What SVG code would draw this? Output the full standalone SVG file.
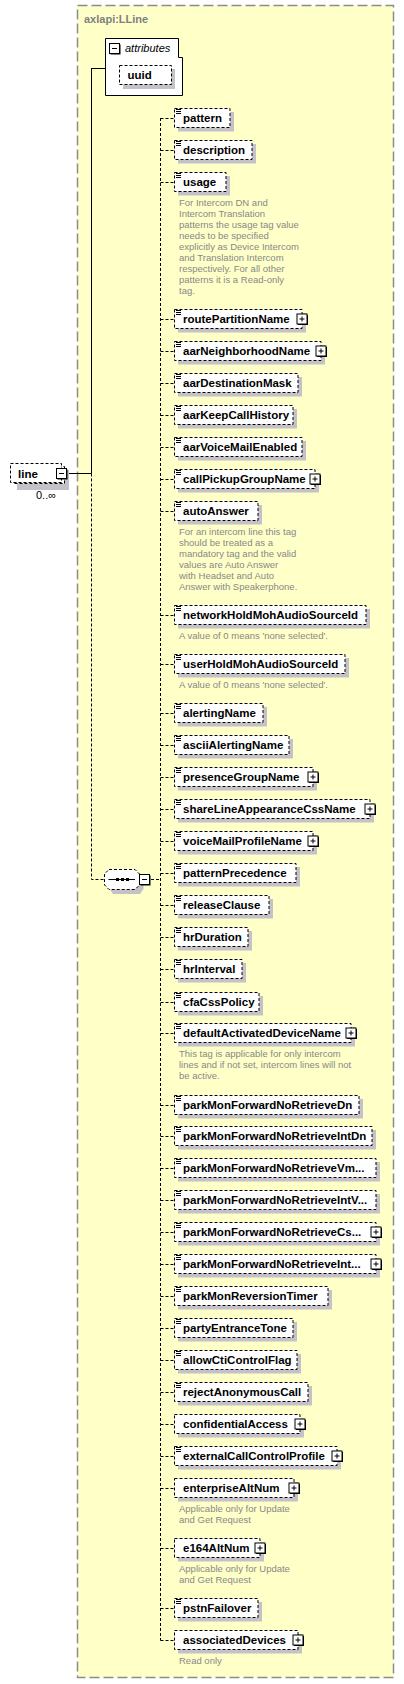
<svg xmlns="http://www.w3.org/2000/svg" width="404" height="1684" viewBox="0 0 404 1684">
<style>
.frame{fill:#FFFFC8;stroke:#8C8C8C;stroke-width:1.5;stroke-dasharray:10 4}
.title{font-family:"Liberation Sans",Arial,sans-serif;font-weight:bold;font-size:11px;fill:#808080}
.box{fill:#fff;stroke:#000;stroke-width:1;stroke-dasharray:3 2}
.sh{fill:#C4C2C8}
.lbl{font-family:"Liberation Sans",Arial,sans-serif;font-weight:bold;font-size:11.5px;fill:#000}
.ann{font-family:"Liberation Sans",Arial,sans-serif;font-size:9.5px;fill:#888888}
.solid{fill:none;stroke:#000;stroke-width:1}
.dash{fill:none;stroke:#000;stroke-width:1;stroke-dasharray:3 2}
.ital{font-family:"Liberation Sans",Arial,sans-serif;font-style:italic;font-size:11px;fill:#000}
.occ{font-family:"Liberation Sans",Arial,sans-serif;font-size:11px;fill:#000}
</style>
<defs>
<g id="plus"><rect x="1.5" y="1.5" width="10" height="10" fill="#000"/><rect x="0.5" y="0.5" width="10" height="10" fill="#fff" stroke="#000"/><path d="M3 5.5h5M5.5 3v5" stroke="#000" fill="none"/></g>
<g id="minus"><rect x="1.5" y="1.5" width="10" height="10" fill="#000"/><rect x="0.5" y="0.5" width="10" height="10" fill="#fff" stroke="#000"/><path d="M3 5.5h5" stroke="#000" fill="none"/></g>
<path id="ic" d="M176 1h5M176 3h5M176 5h5" stroke="#000" fill="none"/>
</defs>

<rect class="frame" x="77.5" y="5.5" width="316" height="1672"/>
<text class="title" x="84" y="23">axlapi:LLine</text>

<g id="connectors">
<path class="solid" d="M91.5 68.5H105M91.5 68V473.5M68 473.5H91.5"/>
<path class="dash" d="M91.5 473.5V879.5H105M151 879.5H160.5M160.5 118V1640.5"/>
<path class="dash" d="M160.5 118.5H174M160.5 150.5H174M160.5 182.5H174M160.5 319.5H174M160.5 351.5H174M160.5 383.5H174M160.5 415.5H174M160.5 447.5H174M160.5 479.5H174M160.5 511.5H174M160.5 615.5H174M160.5 664.5H174M160.5 713.5H174M160.5 745.5H174M160.5 777.5H174M160.5 809.5H174M160.5 841.5H174M160.5 873.5H174M160.5 905.5H174M160.5 937.5H174M160.5 969.5H174M160.5 1002.5H174M160.5 1033.5H174M160.5 1105.5H174M160.5 1136.5H174M160.5 1168.5H174M160.5 1200.5H174M160.5 1232.5H174M160.5 1264.5H174M160.5 1296.5H174M160.5 1328.5H174M160.5 1360.5H174M160.5 1392.5H174M160.5 1424.5H174M160.5 1456.5H174M160.5 1488.5H174M160.5 1548.5H174M160.5 1608.5H174M160.5 1640.5H174"/>
</g>

<g id="attributes">
<path d="M105.5 38.5H178.5V57.5H182.5V95.5H105.5Z" fill="#fff" stroke="#000"/>
<use href="#minus" x="109" y="43"/>
<text class="ital" x="125" y="51.5">attributes</text>
<rect class="sh" x="123" y="69" width="52" height="20"/>
<rect class="box" x="119.5" y="65.5" width="52" height="19"/>
<text class="lbl" x="127.5" y="78.5">uuid</text>
</g>

<g id="line">
<rect class="sh" x="17" y="470" width="52" height="20"/>
<rect class="box" x="13.5" y="466.5" width="51" height="17"/>
<rect class="box" x="10.5" y="463.5" width="51" height="19"/>
<use href="#minus" x="56" y="468"/>
<text class="lbl" x="18" y="477.5">line</text>
<text class="occ" x="36" y="499">0..∞</text>
</g>

<g id="sequence">
<path class="sh" d="M113 873H140L143.5 877.5V889L140 894H113L109.5 889V877.5Z"/>
<path class="box" d="M109 869.5H135L139.5 874V885L135 889.5H109L104.5 885V874Z"/>
<path d="M108.5 879.5H135" stroke="#000"/>
<rect x="116" y="878" width="3" height="3" fill="#000"/>
<rect x="121" y="878" width="3" height="3" fill="#000"/>
<rect x="126" y="878" width="3" height="3" fill="#000"/>
<use href="#minus" x="139" y="874"/>
</g>

<g id="n-pattern"><rect class="sh" x="178" y="112" width="56" height="19.5"/><rect class="box" x="174.5" y="108.5" width="55.5" height="19"/><use href="#ic" y="108.5"/><text class="lbl" x="183" y="122">pattern</text></g>
<g id="n-description"><rect class="sh" x="178" y="144" width="78" height="19.5"/><rect class="box" x="174.5" y="140.5" width="77.5" height="19"/><use href="#ic" y="140.5"/><text class="lbl" x="183" y="154">description</text></g>
<g id="n-usage"><rect class="sh" x="178" y="176" width="52" height="19.5"/><rect class="box" x="174.5" y="172.5" width="51.5" height="19"/><use href="#ic" y="172.5"/><text class="lbl" x="183" y="186">usage</text>
<text class="ann" x="179"><tspan x="179" y="206">For Intercom DN and</tspan><tspan x="179" y="217">Intercom Translation</tspan><tspan x="179" y="228">patterns the usage tag value</tspan><tspan x="179" y="239">needs to be specified</tspan><tspan x="179" y="250">explicitly as Device Intercom</tspan><tspan x="179" y="261">and Translation Intercom</tspan><tspan x="179" y="272">respectively. For all other</tspan><tspan x="179" y="283">patterns it is a Read-only</tspan><tspan x="179" y="294">tag.</tspan></text></g>
<g id="n-routePartitionName"><rect class="sh" x="178" y="313" width="128" height="19.5"/><rect class="box" x="174.5" y="309.5" width="127.5" height="19"/><use href="#ic" y="309.5"/><text class="lbl" x="183" y="323">routePartitionName</text><use href="#plus" x="296.5" y="313.5"/></g>
<g id="n-aarNeighborhoodName"><rect class="sh" x="178" y="345" width="147" height="19.5"/><rect class="box" x="174.5" y="341.5" width="146.5" height="19"/><use href="#ic" y="341.5"/><text class="lbl" x="183" y="355">aarNeighborhoodName</text><use href="#plus" x="315.5" y="345.5"/></g>
<g id="n-aarDestinationMask"><rect class="sh" x="178" y="377" width="124" height="19.5"/><rect class="box" x="174.5" y="373.5" width="123.5" height="19"/><use href="#ic" y="373.5"/><text class="lbl" x="183" y="387">aarDestinationMask</text></g>
<g id="n-aarKeepCallHistory"><rect class="sh" x="178" y="409" width="119" height="19.5"/><rect class="box" x="174.5" y="405.5" width="118.5" height="19"/><use href="#ic" y="405.5"/><text class="lbl" x="183" y="419">aarKeepCallHistory</text></g>
<g id="n-aarVoiceMailEnabled"><rect class="sh" x="178" y="441" width="128" height="19.5"/><rect class="box" x="174.5" y="437.5" width="127.5" height="19"/><use href="#ic" y="437.5"/><text class="lbl" x="183" y="451">aarVoiceMailEnabled</text></g>
<g id="n-callPickupGroupName"><rect class="sh" x="178" y="473" width="141" height="19.5"/><rect class="box" x="174.5" y="469.5" width="140.5" height="19"/><use href="#ic" y="469.5"/><text class="lbl" x="183" y="483">callPickupGroupName</text><use href="#plus" x="309.5" y="473.5"/></g>
<g id="n-autoAnswer"><rect class="sh" x="178" y="505" width="84" height="19.5"/><rect class="box" x="174.5" y="501.5" width="83.5" height="19"/><use href="#ic" y="501.5"/><text class="lbl" x="183" y="515">autoAnswer</text>
<text class="ann"><tspan x="179" y="535">For an intercom line this tag</tspan><tspan x="179" y="546">should be treated as a</tspan><tspan x="179" y="557">mandatory tag and the valid</tspan><tspan x="179" y="568">values are Auto Answer</tspan><tspan x="179" y="579">with Headset and Auto</tspan><tspan x="179" y="590">Answer with Speakerphone.</tspan></text></g>
<g id="n-networkHoldMohAudioSourceId"><rect class="sh" x="178" y="609" width="192" height="19.5"/><rect class="box" x="174.5" y="605.5" width="191.5" height="19"/><use href="#ic" y="605.5"/><text class="lbl" x="183" y="619">networkHoldMohAudioSourceId</text>
<text class="ann" x="179" y="639">A value of 0 means 'none selected'.</text></g>
<g id="n-userHoldMohAudioSourceId"><rect class="sh" x="178" y="658" width="171" height="19.5"/><rect class="box" x="174.5" y="654.5" width="170.5" height="19"/><use href="#ic" y="654.5"/><text class="lbl" x="183" y="668">userHoldMohAudioSourceId</text>
<text class="ann" x="179" y="688">A value of 0 means 'none selected'.</text></g>
<g id="n-alertingName"><rect class="sh" x="178" y="707" width="89" height="19.5"/><rect class="box" x="174.5" y="703.5" width="88.5" height="19"/><use href="#ic" y="703.5"/><text class="lbl" x="183" y="717">alertingName</text></g>
<g id="n-asciiAlertingName"><rect class="sh" x="178" y="739" width="115" height="19.5"/><rect class="box" x="174.5" y="735.5" width="114.5" height="19"/><use href="#ic" y="735.5"/><text class="lbl" x="183" y="749">asciiAlertingName</text></g>
<g id="n-presenceGroupName"><rect class="sh" x="178" y="771" width="139" height="19.5"/><rect class="box" x="174.5" y="767.5" width="138.5" height="19"/><use href="#ic" y="767.5"/><text class="lbl" x="183" y="781">presenceGroupName</text><use href="#plus" x="307.5" y="771.5"/></g>
<g id="n-shareLineAppearanceCssName"><rect class="sh" x="178" y="803" width="196" height="19.5"/><rect class="box" x="174.5" y="799.5" width="195.5" height="19"/><use href="#ic" y="799.5"/><text class="lbl" x="183" y="813">shareLineAppearanceCssName</text><use href="#plus" x="364.5" y="803.5"/></g>
<g id="n-voiceMailProfileName"><rect class="sh" x="178" y="835" width="139" height="19.5"/><rect class="box" x="174.5" y="831.5" width="138.5" height="19"/><use href="#ic" y="831.5"/><text class="lbl" x="183" y="845">voiceMailProfileName</text><use href="#plus" x="307.5" y="835.5"/></g>
<g id="n-patternPrecedence"><rect class="sh" x="178" y="867" width="122" height="19.5"/><rect class="box" x="174.5" y="863.5" width="121.5" height="19"/><use href="#ic" y="863.5"/><text class="lbl" x="183" y="877">patternPrecedence</text></g>
<g id="n-releaseClause"><rect class="sh" x="178" y="899" width="95" height="19.5"/><rect class="box" x="174.5" y="895.5" width="94.5" height="19"/><use href="#ic" y="895.5"/><text class="lbl" x="183" y="909">releaseClause</text></g>
<g id="n-hrDuration"><rect class="sh" x="178" y="931" width="74" height="19.5"/><rect class="box" x="174.5" y="927.5" width="73.5" height="19"/><use href="#ic" y="927.5"/><text class="lbl" x="183" y="941">hrDuration</text></g>
<g id="n-hrInterval"><rect class="sh" x="178" y="963" width="68" height="19.5"/><rect class="box" x="174.5" y="959.5" width="67.5" height="19"/><use href="#ic" y="959.5"/><text class="lbl" x="183" y="973">hrInterval</text></g>
<g id="n-cfaCssPolicy"><rect class="sh" x="178" y="996" width="85" height="19.5"/><rect class="box" x="174.5" y="992.5" width="84.5" height="19"/><use href="#ic" y="992.5"/><text class="lbl" x="183" y="1006">cfaCssPolicy</text></g>
<g id="n-defaultActivatedDeviceName"><rect class="sh" x="178" y="1027" width="177" height="19.5"/><rect class="box" x="174.5" y="1023.5" width="176.5" height="19"/><use href="#ic" y="1023.5"/><text class="lbl" x="183" y="1037">defaultActivatedDeviceName</text><use href="#plus" x="345.5" y="1027.5"/>
<text class="ann"><tspan x="179" y="1057">This tag is applicable for only intercom</tspan><tspan x="179" y="1068">lines and if not set, intercom lines will not</tspan><tspan x="179" y="1079">be active.</tspan></text></g>
<g id="n-parkMonForwardNoRetrieveDn"><rect class="sh" x="178" y="1099" width="185" height="19.5"/><rect class="box" x="174.5" y="1095.5" width="184.5" height="19"/><use href="#ic" y="1095.5"/><text class="lbl" x="183" y="1109">parkMonForwardNoRetrieveDn</text></g>
<g id="n-parkMonForwardNoRetrieveIntDn"><rect class="sh" x="178" y="1130" width="198" height="19.5"/><rect class="box" x="174.5" y="1126.5" width="197.5" height="19"/><use href="#ic" y="1126.5"/><text class="lbl" x="183" y="1140">parkMonForwardNoRetrieveIntDn</text></g>
<g id="n-parkMonForwardNoRetrieveVm"><rect class="sh" x="178" y="1162" width="202" height="19.5"/><rect class="box" x="174.5" y="1158.5" width="201.5" height="19"/><use href="#ic" y="1158.5"/><text class="lbl" x="183" y="1172">parkMonForwardNoRetrieveVm...</text></g>
<g id="n-parkMonForwardNoRetrieveIntV"><rect class="sh" x="178" y="1194" width="202" height="19.5"/><rect class="box" x="174.5" y="1190.5" width="201.5" height="19"/><use href="#ic" y="1190.5"/><text class="lbl" x="183" y="1204">parkMonForwardNoRetrieveIntV...</text></g>
<g id="n-parkMonForwardNoRetrieveCs"><rect class="sh" x="178" y="1226" width="202" height="19.5"/><rect class="box" x="174.5" y="1222.5" width="201.5" height="19"/><use href="#ic" y="1222.5"/><text class="lbl" x="183" y="1236">parkMonForwardNoRetrieveCs...</text><use href="#plus" x="370.5" y="1226.5"/></g>
<g id="n-parkMonForwardNoRetrieveInt"><rect class="sh" x="178" y="1258" width="202" height="19.5"/><rect class="box" x="174.5" y="1254.5" width="201.5" height="19"/><use href="#ic" y="1254.5"/><text class="lbl" x="183" y="1268">parkMonForwardNoRetrieveInt...</text><use href="#plus" x="370.5" y="1258.5"/></g>
<g id="n-parkMonReversionTimer"><rect class="sh" x="178" y="1290" width="154" height="19.5"/><rect class="box" x="174.5" y="1286.5" width="153.5" height="19"/><use href="#ic" y="1286.5"/><text class="lbl" x="183" y="1300">parkMonReversionTimer</text></g>
<g id="n-partyEntranceTone"><rect class="sh" x="178" y="1322" width="119" height="19.5"/><rect class="box" x="174.5" y="1318.5" width="118.5" height="19"/><use href="#ic" y="1318.5"/><text class="lbl" x="183" y="1332">partyEntranceTone</text></g>
<g id="n-allowCtiControlFlag"><rect class="sh" x="178" y="1354" width="123" height="19.5"/><rect class="box" x="174.5" y="1350.5" width="122.5" height="19"/><use href="#ic" y="1350.5"/><text class="lbl" x="183" y="1364">allowCtiControlFlag</text></g>
<g id="n-rejectAnonymousCall"><rect class="sh" x="178" y="1386" width="134" height="19.5"/><rect class="box" x="174.5" y="1382.5" width="133.5" height="19"/><use href="#ic" y="1382.5"/><text class="lbl" x="183" y="1396">rejectAnonymousCall</text></g>
<g id="n-confidentialAccess"><rect class="sh" x="178" y="1418" width="126" height="19.5"/><rect class="box" x="174.5" y="1414.5" width="125.5" height="19"/><text class="lbl" x="183" y="1428">confidentialAccess</text><use href="#plus" x="294.5" y="1418.5"/></g>
<g id="n-externalCallControlProfile"><rect class="sh" x="178" y="1450" width="163" height="19.5"/><rect class="box" x="174.5" y="1446.5" width="162.5" height="19"/><use href="#ic" y="1446.5"/><text class="lbl" x="183" y="1460">externalCallControlProfile</text><use href="#plus" x="331.5" y="1450.5"/></g>
<g id="n-enterpriseAltNum"><rect class="sh" x="178" y="1482" width="120" height="19.5"/><rect class="box" x="174.5" y="1478.5" width="119.5" height="19"/><text class="lbl" x="183" y="1492">enterpriseAltNum</text><use href="#plus" x="288.5" y="1482.5"/>
<text class="ann"><tspan x="179" y="1512">Applicable only for Update</tspan><tspan x="179" y="1523">and Get Request</tspan></text></g>
<g id="n-e164AltNum"><rect class="sh" x="178" y="1542" width="86" height="19.5"/><rect class="box" x="174.5" y="1538.5" width="85.5" height="19"/><text class="lbl" x="183" y="1552">e164AltNum</text><use href="#plus" x="254.5" y="1542.5"/>
<text class="ann"><tspan x="179" y="1572">Applicable only for Update</tspan><tspan x="179" y="1583">and Get Request</tspan></text></g>
<g id="n-pstnFailover"><rect class="sh" x="178" y="1602" width="84" height="19.5"/><rect class="box" x="174.5" y="1598.5" width="83.5" height="19"/><use href="#ic" y="1598.5"/><text class="lbl" x="183" y="1612">pstnFailover</text></g>
<g id="n-associatedDevices"><rect class="sh" x="178" y="1634" width="124" height="19.5"/><rect class="box" x="174.5" y="1630.5" width="123.5" height="19"/><text class="lbl" x="183" y="1644">associatedDevices</text><use href="#plus" x="292.5" y="1634.5"/>
<text class="ann" x="179" y="1664">Read only</text></g>
</svg>
